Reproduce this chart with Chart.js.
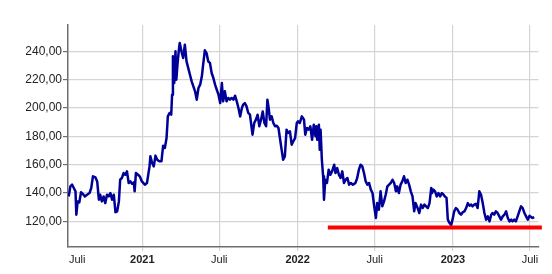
<!DOCTYPE html>
<html>
<head>
<meta charset="utf-8">
<script src="https://cdn.jsdelivr.net/npm/chart.js@4/dist/chart.umd.min.js"></script>
<style>
  html, body { margin: 0; padding: 0; background: #ffffff; }
  #wrap { width: 552px; height: 274px; }
</style>
</head>
<body>
<div id="wrap"><canvas id="c" width="552" height="274"></canvas></div>
<script>
// x values: days since 2020-01-01
const days = [
  193,197,201,205,209,211,214,218,222,226,231,236,242,246,250,256,260,264,267,271,
  275,279,283,287,291,295,299,303,307,311,314,318,322,326,330,334,338,342,346,348,
  351,356,360,365,372,377,383,385,389,393,397,401,406,411,415,419,423,426,430,434,
  436,438,441,444,446,449,452,454,
  458,462,466,470,474,478,482,486,490,494,498,502,506,509,513,517,521,525,529,533,
  537,541,545,549,553,556,560,564,568,572,576,580,584,588,592,596,600,603,607,611,
  615,619,625,629,633,637,641,645,649,653,657,660,663,666,670,674,678,682,686,690,
  694,697,701,705,709,713,717,721,725,729,
  732,736,741,746,749,753,757,761,765,769,773,775,777,781,783,785,788,791,793,796,
  800,804,808,812,817,820,824,828,832,836,840,844,848,852,856,861,867,871,875,879,
  883,887,891,895,899,903,907,911,915,918,922,926,930,934,938,942,946,950,954,958,
  962,965,969,973,977,981,985,989,993,997,1001,1005,1008,
  1013,1017,1021,1025,1029,1033,1037,1041,1045,1047,1050,1054,1058,1062,1066,1070,1074,1077,1081,1084,
  1088,1092,1095,1099,1103,1107,1111,1115,1119,1123,1127,1131,1135,1139,1142,1146,1150,1154,1158,1162,
  1166,1170,1174,1178,1182,1186,1189,1193,1197,1201,1205,1209,1213,1217,1221,1225,1229,1233,1236,1240,
  1244,1248,1252,1256,1260,1264,1268,1272,1276,1280,1283,1287
];
const prices = [
  137.6,144.7,145.9,143.5,141.2,124.7,134.1,133.4,140.5,139.5,137.6,138.8,140.0,143.5,151.8,151.0,148.2,135.3,138.8,134.1,
  137.6,132.9,138.8,137.6,140.0,135.3,138.8,126.4,127.1,134.1,149.4,150.6,154.1,152.9,155.3,147.1,148.2,146.6,147.5,141.2,
  154.1,152.9,151.8,148.2,145.9,147.1,158.8,165.9,161.2,158.8,166.4,163.5,162.4,162.4,173.4,171.8,178.8,194.1,196.5,195.3,
  209.4,236.5,217.6,240.0,220.0,231.8,241.2,245.9,
  240.0,235.3,244.7,232.9,228.2,223.5,218.8,215.3,211.8,205.9,214.1,216.5,222.4,230.6,240.7,238.8,232.9,231.8,224.7,221.2,
  216.5,212.9,209.4,203.5,217.6,204.7,211.8,204.7,207.1,205.9,207.1,205.9,208.7,204.7,200.0,194.1,200.0,202.4,203.5,201.2,
  196.5,195.3,181.2,189.4,191.8,195.3,187.1,191.8,197.6,189.4,187.1,205.9,200.0,191.8,194.1,189.4,187.1,187.5,185.9,177.6,
  169.4,163.5,165.9,184.7,182.4,183.5,174.1,176.5,178.8,189.4,
  190.6,189.4,194.1,191.8,181.2,185.9,184.7,187.1,177.6,188.2,180.0,187.1,177.6,188.2,170.6,184.7,163.5,151.8,135.3,149.4,
  147.1,156.5,152.9,155.3,160.0,154.1,157.6,152.9,150.6,155.3,147.1,149.4,150.6,145.9,147.1,145.9,147.1,150.6,156.5,160.0,
  158.8,154.1,148.2,145.9,147.1,142.4,140.0,130.6,122.4,132.9,128.2,141.2,130.6,134.1,138.8,144.7,145.9,147.1,149.4,147.1,
  141.2,144.7,140.0,145.9,148.2,151.8,147.1,149.4,145.9,141.2,137.6,127.1,132.9,
  129.4,125.9,131.8,129.4,131.8,130.6,129.4,132.9,143.5,140.0,142.4,141.2,137.6,140.0,137.6,140.0,138.8,137.6,136.5,121.2,
  118.8,117.6,121.2,127.1,129.4,128.2,125.9,124.7,126.4,127.1,129.4,132.9,131.1,131.8,130.6,131.8,132.4,129.4,141.2,138.8,
  132.9,125.9,121.2,123.5,120.0,124.7,125.9,124.7,127.1,125.9,123.5,121.2,123.5,124.7,127.1,122.4,120.0,121.2,120.0,121.2,
  120.0,123.5,127.1,130.6,129.4,125.9,123.5,121.2,124.0,123.0,122.4,123.0
];
// horizontal support level
const supportDays = [802, 1305];
const supportLevel = [115.7, 115.7];

// axis ticks
const xTickDays = [213, 366, 547, 731, 912, 1096, 1277];
const xTickLabels = ['Juli', '2021', 'Juli', '2022', 'Juli', '2023', 'Juli'];
const yTickValues = [120, 140, 160, 180, 200, 220, 240];
const xMin = 191.4, xMax = 1297.1;
const yMin = 101.9, yMax = 258.6;

Chart.defaults.font.family = '"Liberation Sans", Arial, Helvetica, sans-serif';
Chart.defaults.color = '#333333';

const priceData = days.map((d, i) => ({ x: d, y: prices[i] }));
const supportData = supportDays.map((d, i) => ({ x: d, y: supportLevel[i] }));

new Chart(document.getElementById('c'), {
  type: 'line',
  data: {
    datasets: [
      {
        data: supportData,
        borderColor: '#ff0000',
        borderWidth: 4,
        pointRadius: 0,
        clip: false,
        borderCapStyle: 'butt'
      },
      {
        data: priceData,
        borderColor: '#000099',
        borderWidth: 2.5,
        pointRadius: 0,
        tension: 0,
        borderJoinStyle: 'round'
      }
    ]
  },
  options: {
    responsive: false,
    animation: false,
    events: [],
    layout: { padding: { top: 25, right: 13.5, bottom: 0, left: 0 } },
    plugins: { legend: { display: false }, tooltip: { enabled: false } },
    scales: {
      x: {
        type: 'linear',
        min: xMin,
        max: xMax,
        afterBuildTicks: (s) => { s.ticks = xTickDays.map(v => ({ value: v })); },
        afterFit: (s) => { s.height = 27; },
        ticks: {
          autoSkip: false,
          maxRotation: 0,
          padding: 2,
          color: '#222222',
          font: (ctx) => ({ size: 11, weight: (ctx.index % 2 === 1) ? 'bold' : 'normal' }),
          callback: (v, i) => xTickLabels[i]
        },
        grid: {
          color: (ctx) => ctx.index === 0 ? 'rgba(0,0,0,0)' : '#d4d4d4',
          lineWidth: 1.2,
          tickLength: 4
        },
        border: { display: true, color: '#6e6e6e', width: 1.5 }
      },
      y: {
        type: 'linear',
        min: yMin,
        max: yMax,
        afterBuildTicks: (s) => { s.ticks = yTickValues.map(v => ({ value: v })); },
        afterFit: (s) => { s.width = 68; },
        ticks: {
          padding: 1,
          color: '#222222',
          font: { size: 12 },
          callback: (v) => v.toFixed(2).replace('.', ',')
        },
        grid: {
          color: '#d4d4d4',
          lineWidth: 1.2,
          tickLength: 5,
          tickColor: '#6e6e6e'
        },
        border: { display: true, color: '#6e6e6e', width: 1.5 }
      }
    }
  }
});
</script>
</body>
</html>
